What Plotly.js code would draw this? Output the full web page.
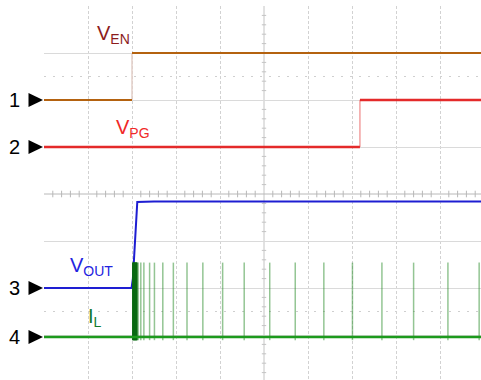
<!DOCTYPE html>
<html><head><meta charset="utf-8">
<script src="https://cdn.plot.ly/plotly-3.0.1.min.js"></script>
<style>html,body{margin:0;padding:0;background:#fff}#chart{width:481px;height:380px}</style>
</head><body><div id="chart"></div>
<script>
// Units: time in screen divisions (10 across), amplitude in screen divisions (8 high)
const channelNames = ['1', '2', '3', '4'];
const channelOffsets = [6, 5, 2, 0.96];

const venTime  = [0, 2.0, 2.0, 9.94];
const venLevel = [6, 6, 7, 7];

const vpgTime  = [0, 7.18, 7.18, 9.94];
const vpgLevel = [5, 5, 6, 6];

const voutTime  = [0, 1.99, 2.02, 2.05, 2.08, 2.10, 2.12, 2.5, 9.94];
const voutLevel = [2, 2, 2.2, 2.75, 3.3, 3.65, 3.83, 3.84, 3.84];

const ilTime  = [0, 9.94];
const ilLevel = [0.96, 0.96];
const ilPeak = 2.54;
const ilDip = 0.89;
const ilBurstTimes = [2.02, 2.03, 2.04, 2.05, 2.06, 2.07, 2.08, 2.09, 2.10, 2.11];
const ilPulseTimes = [2.14, 2.20, 2.27, 2.40, 2.51, 2.70, 2.94, 3.25, 3.61, 4.06,
                      4.55, 5.13, 5.71, 6.36, 7.01, 7.68, 8.40, 9.18, 9.89];

const labelText = ['V<sub>EN</sub>', 'V<sub>PG</sub>', 'V<sub>OUT</sub>', 'I<sub>L</sub>'];
const labelX = [1.57, 2.02, 1.07, 1.16];
const labelY = [7.40, 5.40, 2.45, 1.38];
const colors = ['#8c1c1c', '#f02828', '#2323e0', '#137a2c'];

const X_MAX = 437 / 44;
const Y_MIN = 2 / 47;

function split(time, level) {
  const flat = {x: [], y: []}, edge = {x: [], y: []};
  for (let i = 0; i < time.length - 1; i++) {
    const tgt = (time[i] === time[i + 1]) ? edge : flat;
    tgt.x.push(time[i], time[i + 1], null);
    tgt.y.push(level[i], level[i + 1], null);
  }
  return {flat, edge};
}
function pulses(times, lo, hi) {
  const x = [], y = [];
  times.forEach(t => { x.push(t, t, null); y.push(lo, hi, null); });
  return {x, y};
}

const ven = split(venTime, venLevel);
const vpg = split(vpgTime, vpgLevel);
const burst = pulses(ilBurstTimes, ilDip, ilPeak);
const spikes = pulses(ilPulseTimes, ilDip, ilPeak);

const traces = [
  {x: ven.edge.x, y: ven.edge.y, mode: 'lines', line: {color: '#e3cfc8', width: 1.5}},
  {x: ven.flat.x, y: ven.flat.y, mode: 'lines', line: {color: '#b4620f', width: 2}},
  {x: vpg.edge.x, y: vpg.edge.y, mode: 'lines', line: {color: '#f2a0a0', width: 1.5}},
  {x: vpg.flat.x, y: vpg.flat.y, mode: 'lines', line: {color: '#e42a2a', width: 2.5}},
  {x: voutTime, y: voutLevel, mode: 'lines', line: {color: '#1e1ed2', width: 2}},
  {x: spikes.x, y: spikes.y, mode: 'lines', line: {color: 'rgba(40,140,40,0.5)', width: 1.5}},
  {x: burst.x, y: burst.y, mode: 'lines', line: {color: '#0a6a12', width: 1.6}},
  {x: ilTime, y: ilLevel, mode: 'lines', line: {color: '#1c9a1c', width: 2.5}}
];

// paper conversion helpers (plot area 44..481 px, 6..380 px)
const px2paperX = px => (px - 44) / 437;
const yv2paper = v => (v - Y_MIN) / (8 - Y_MIN);

const shapes = [];
// center lines
shapes.push({type: 'line', xref: 'x', yref: 'y', x0: 5, x1: 5, y0: Y_MIN, y1: 8, line: {color: '#c4c4c4', width: 1}, layer: 'below'});
shapes.push({type: 'line', xref: 'x', yref: 'y', x0: 0, x1: X_MAX, y0: 4, y1: 4, line: {color: '#b8b8b8', width: 1}, layer: 'below'});
// minor ticks on center lines
for (let k = 1; k < 40; k++) {
  const v = k * 0.2;
  if (Math.abs(v - Math.round(v)) < 1e-6) continue;
  shapes.push({type: 'line', xref: 'x', yref: 'y', x0: 5 - 0.05, x1: 5 + 0.05, y0: v, y1: v, line: {color: '#c4c4c4', width: 1}, layer: 'below'});
}
for (let k = 1; k < 50; k++) {
  const t = k * 0.2;
  if (t > X_MAX) break;
  if (Math.abs(t - Math.round(t)) < 1e-6) continue;
  shapes.push({type: 'line', xref: 'x', yref: 'y', x0: t, x1: t, y0: 4 - 0.07, y1: 4 + 0.07, line: {color: '#b8b8b8', width: 1}, layer: 'below'});
}
// dotted reference lines
[6.5, 1.5].forEach(v => shapes.push({type: 'line', xref: 'x', yref: 'y', x0: 0, x1: X_MAX, y0: v, y1: v,
  line: {color: '#cfcfcf', width: 1, dash: '2px,7px'}, layer: 'below'}));
// channel markers (triangles)
channelOffsets.forEach(v => {
  const yc = yv2paper(v), h = 7 / 374;
  const xa = px2paperX(28.5), xb = px2paperX(43);
  shapes.push({type: 'path', xref: 'paper', yref: 'paper',
    path: `M ${xa} ${yc + h} L ${xb} ${yc} L ${xa} ${yc - h} Z`,
    fillcolor: '#000', line: {color: '#000', width: 0}});
});

const annotations = [];
channelNames.forEach((n, i) => annotations.push({
  xref: 'paper', yref: 'y', x: px2paperX(14.5), y: channelOffsets[i], text: n, showarrow: false,
  font: {family: 'Liberation Sans, Arial, sans-serif', size: 20, color: '#000'}, xanchor: 'center', yanchor: 'middle'
}));
labelText.forEach((t, i) => annotations.push({
  xref: 'x', yref: 'y', x: labelX[i], y: labelY[i], text: t, showarrow: false,
  font: {family: 'Liberation Sans, Arial, sans-serif', size: 20, color: colors[i]}, xanchor: 'center', yanchor: 'middle'
}));

const layout = {
  width: 481, height: 380, autosize: false,
  margin: {l: 44, r: 0, t: 6, b: 0, pad: 0},
  paper_bgcolor: '#fff', plot_bgcolor: '#fff',
  showlegend: false,
  xaxis: {range: [0, X_MAX], tickvals: [0,1,2,3,4,6,7,8,9], showticklabels: false, ticks: '',
          showgrid: true, gridcolor: '#d2d2d2', griddash: '3px,2px', gridwidth: 1, zeroline: false, showline: false, fixedrange: true},
  yaxis: {range: [Y_MIN, 8], tickvals: [1,2,3,5,6,7], showticklabels: false, ticks: '',
          showgrid: true, gridcolor: '#dadada', gridwidth: 1, zeroline: false, showline: false, fixedrange: true},
  shapes, annotations
};

Plotly.newPlot('chart', traces, layout, {staticPlot: true, displayModeBar: false});
</script></body></html>
